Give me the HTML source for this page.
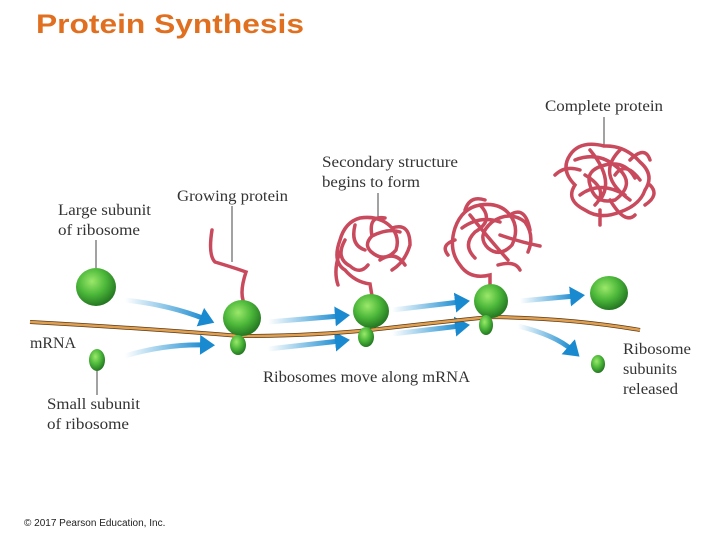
<!DOCTYPE html>
<html><head><meta charset="utf-8"><style>
html,body{margin:0;padding:0;background:#fff;width:720px;height:540px;overflow:hidden}
svg{display:block}
.t{font-family:"Liberation Serif",serif;font-size:16px;fill:#333}
</style></head><body>
<svg width="720" height="540" viewBox="0 0 720 540">
<defs>
<radialGradient id="g" cx="0.4" cy="0.35" r="0.7">
<stop offset="0" stop-color="#9be86a"/><stop offset="0.5" stop-color="#4cb83a"/><stop offset="1" stop-color="#1f6e1e"/>
</radialGradient>
<linearGradient id="b" x1="0" x2="1" y1="0" y2="0">
<stop offset="0" stop-color="#1a90d0" stop-opacity="0"/><stop offset="1" stop-color="#1a8ad0"/>
</linearGradient>
<marker id="m" markerWidth="4" markerHeight="4" refX="1" refY="2" orient="auto" markerUnits="strokeWidth">
<path d="M0,0 L3,2 L0,4 Z" fill="#1a8ad0"/></marker>
</defs>
<text x="36" y="33" font-family="Liberation Sans,sans-serif" font-weight="bold" font-size="27" fill="#e07020" textLength="268" lengthAdjust="spacingAndGlyphs">Protein Synthesis</text>
<text x="24" y="526" font-family="Liberation Sans,sans-serif" font-size="10" fill="#222">© 2017 Pearson Education, Inc.</text>

<g lengthAdjust="spacingAndGlyphs">
<text class="t" x="545" y="111" textLength="118" lengthAdjust="spacingAndGlyphs">Complete protein</text>
<text class="t" x="322" y="167" textLength="136" lengthAdjust="spacingAndGlyphs">Secondary structure</text>
<text class="t" x="322" y="187" textLength="98" lengthAdjust="spacingAndGlyphs">begins to form</text>
<text class="t" x="177" y="201" textLength="111" lengthAdjust="spacingAndGlyphs">Growing protein</text>
<text class="t" x="58" y="215" textLength="93" lengthAdjust="spacingAndGlyphs">Large subunit</text>
<text class="t" x="58" y="235" textLength="82" lengthAdjust="spacingAndGlyphs">of ribosome</text>
<text class="t" x="30" y="348" textLength="46" lengthAdjust="spacingAndGlyphs">mRNA</text>
<text class="t" x="263" y="382" textLength="207" lengthAdjust="spacingAndGlyphs">Ribosomes move along mRNA</text>
<text class="t" x="47" y="409" textLength="93" lengthAdjust="spacingAndGlyphs">Small subunit</text>
<text class="t" x="47" y="429" textLength="82" lengthAdjust="spacingAndGlyphs">of ribosome</text>
<text class="t" x="623" y="354" textLength="68" lengthAdjust="spacingAndGlyphs">Ribosome</text>
<text class="t" x="623" y="374" textLength="54" lengthAdjust="spacingAndGlyphs">subunits</text>
<text class="t" x="623" y="394" textLength="55" lengthAdjust="spacingAndGlyphs">released</text>
</g>
<g stroke="#444" stroke-width="1">
<line x1="604" y1="117" x2="604" y2="146"/>
<line x1="378" y1="193" x2="378" y2="218"/>
<line x1="232" y1="206" x2="232" y2="262"/>
<line x1="96" y1="240" x2="96" y2="268"/>
<line x1="97" y1="370" x2="97" y2="395"/>
</g>

<g fill="none" stroke="url(#b)" stroke-width="5" marker-end="url(#m)">
<path d="M125,300 Q170,305 205,319"/>
<path d="M125,356 Q165,344 205,345"/>
<path d="M268,322 L340,316"/>
<path d="M268,349 L340,341"/>
<path d="M392,310 L460,302"/>
<path d="M392,334 L460,326"/>
<path d="M520,301 L575,296"/>
<path d="M518,326 Q555,335 572,350"/>
</g>

<path d="M30,322 Q140,328 240,336 Q310,336 370,330 Q440,322 490,317 Q570,318 640,330" fill="none" stroke="#5a3a1a" stroke-width="4"/>
<path d="M30,322 Q140,328 240,336 Q310,336 370,330 Q440,322 490,317 Q570,318 640,330" fill="none" stroke="#e0a050" stroke-width="2.5"/>

<g fill="none" stroke="#c84a5c" stroke-width="3.5" stroke-linecap="round">
<path d="M212,230 Q208,255 215,262 Q235,268 246,272 Q240,290 243,300"/>
<path d="M372,296 L370,284 Q355,282 345,270 Q332,262 340,240 Q345,222 360,218 Q380,215 392,228 Q400,238 396,250 Q386,262 374,254 Q362,246 372,236 Q388,228 400,232 M345,240 Q335,258 350,266 Q360,275 368,265 M372,236 Q368,215 385,218 M340,252 Q333,270 338,285 M392,228 Q410,222 410,245 Q405,262 392,270 M355,225 Q350,245 365,250 M380,260 Q395,250 405,265"/>
<path d="M490,288 L490,275 Q470,280 460,265 Q448,250 455,228 Q462,208 480,205 Q500,202 510,215 Q520,228 512,245 Q500,258 488,248 Q476,236 492,222 Q510,210 525,222 Q535,236 528,252 M455,240 Q440,245 448,255 M480,205 Q495,220 475,232 Q462,245 475,258 M500,235 Q520,242 540,246 M510,215 Q525,205 530,230 M470,215 Q490,240 508,260 M462,228 Q480,215 500,222 M465,210 Q470,195 485,200 M498,265 Q515,260 520,270"/>
<path d="M604,146 Q580,140 570,155 Q560,170 575,185 Q565,200 585,210 Q600,220 620,212 Q640,205 645,190 Q655,175 640,162 Q625,145 604,146 M575,160 Q600,150 620,170 Q635,185 615,200 Q595,205 590,185 Q585,170 605,165 Q625,160 635,178 M580,195 Q600,180 625,195 M600,210 L600,225 M610,200 Q625,225 635,215 M555,175 Q565,165 580,170 M630,160 Q645,145 650,160 M590,150 Q615,180 600,200 M620,150 Q595,175 630,200 M650,185 Q660,195 645,205 M585,175 Q610,190 595,205 M615,175 Q625,160 640,180"/>
</g>

<ellipse cx="96" cy="287" rx="20" ry="19" fill="url(#g)"/>
<ellipse cx="97" cy="360" rx="8" ry="11" fill="url(#g)"/>
<ellipse cx="242" cy="318" rx="19" ry="18" fill="url(#g)"/>
<ellipse cx="238" cy="345" rx="8" ry="10" fill="url(#g)"/>
<ellipse cx="371" cy="311" rx="18" ry="17" fill="url(#g)"/>
<ellipse cx="366" cy="337" rx="8" ry="10" fill="url(#g)"/>
<ellipse cx="491" cy="301" rx="17" ry="17" fill="url(#g)"/>
<ellipse cx="486" cy="325" rx="7" ry="10" fill="url(#g)"/>
<ellipse cx="609" cy="293" rx="19" ry="17" fill="url(#g)"/>
<ellipse cx="598" cy="364" rx="7" ry="9" fill="url(#g)"/>
</svg>
</body></html>
